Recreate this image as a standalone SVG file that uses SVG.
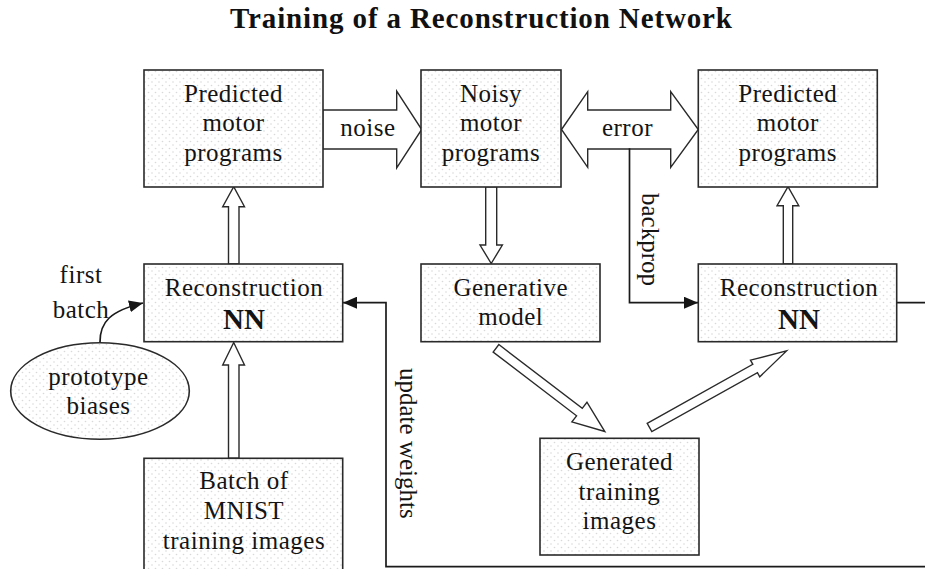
<svg xmlns="http://www.w3.org/2000/svg" width="925" height="569" viewBox="0 0 925 569">
  <defs>
    <!-- light stipple used inside boxes and the ellipse -->
    <pattern id="dots" width="7" height="7" patternUnits="userSpaceOnUse">
      <rect width="7" height="7" fill="#ffffff"/>
      <circle cx="1.5" cy="1.5" r="0.8" fill="#d9d9d9"/>
      <circle cx="5" cy="5" r="0.8" fill="#d9d9d9"/>
    </pattern>
    <marker id="head" markerUnits="userSpaceOnUse" markerWidth="14" markerHeight="12" refX="14" refY="6" orient="auto">
      <path d="M0,0 L14,6 L0,12 z" fill="#151515"/>
    </marker>
  </defs>
  <style>
    .box{fill:url(#dots);stroke:#2a2a2a;stroke-width:1.6}
    .t{font-family:"Liberation Serif","Times New Roman",serif;font-size:25px;fill:#141414;text-anchor:middle;letter-spacing:0.5px}
    .nn{font-weight:bold;font-size:29px;letter-spacing:0}
    .side{text-anchor:start;letter-spacing:0}
    .fat{fill:#ffffff;stroke:#2a2a2a;stroke-width:1.4;stroke-linejoin:miter}
    .wire{fill:none;stroke:#1a1a1a;stroke-width:1.7}
  </style>

  <rect width="925" height="569" fill="#ffffff"/>

  <text x="230" y="28" textLength="502" lengthAdjust="spacing" style="font-family:'Liberation Serif','Times New Roman',serif;font-size:29px;font-weight:bold;fill:#111">Training of a Reconstruction Network</text>

  <!-- connectors -->
  <g id="connectors">
    <!-- noise -->
    <polygon class="fat" points="322.7,110 396.7,110 396.7,91 421.7,129.5 396.7,168 396.7,149 322.7,149"/>
    <text class="t" x="368" y="136">noise</text>
    <!-- error (double headed) -->
    <polygon class="fat" points="561.5,129.5 587.7,91.7 587.7,110 670.7,110 670.7,91.7 698.3,129.5 670.7,167.3 670.7,149 587.7,149 587.7,167.3"/>
    <text class="t" x="627.5" y="136">error</text>
    <!-- reconstruction NN to predicted programs (left) -->
    <polygon class="fat" points="228.5,264 228.5,206.7 222.7,206.7 233.7,186.7 244.5,206.7 239,206.7 239,264"/>
    <!-- MNIST batch to reconstruction NN -->
    <polygon class="fat" points="228.5,458.3 228.5,365 222.7,365 233.7,342.5 244.5,365 239,365 239,458.3"/>
    <!-- noisy programs to generative model -->
    <polygon class="fat" points="485.7,186.7 485.7,245 480,245 491.2,263.5 502.4,245 496.7,245 496.7,186.7"/>
    <!-- reconstruction NN to predicted programs (right) -->
    <polygon class="fat" points="783.3,264 783.3,205.7 777,205.7 788,186.7 798.8,205.7 792.7,205.7 792.7,264"/>
    <!-- generative model to generated images -->
    <polygon class="fat" transform="translate(496,348.3) rotate(37.4)" points="0,-4.7 105,-4.7 105,-12.4 137,0 105,12.4 105,4.7 0,4.7"/>
    <!-- generated images to reconstruction NN -->
    <polygon class="fat" transform="translate(649.5,427.5) rotate(-29.2)" points="0,-4.75 121,-4.75 121,-9.5 157,0 121,9.5 121,4.75 0,4.75"/>

    <!-- backprop -->
    <path class="wire" d="M629.5,148.3 V302.7 H698" marker-end="url(#head)"/>
    <text class="t side" transform="translate(641.5,193) rotate(90)">backprop</text>

    <!-- update weights -->
    <path class="wire" d="M896.7,302.7 H930 V566.7 H386 V302.7 H343" marker-end="url(#head)"/>
    <text class="t side" transform="translate(400,368) rotate(90)">update weights</text>

    <!-- first batch -->
    <path class="wire" d="M100,342 C100,322 110,311 143,303" marker-end="url(#head)"/>
    <text class="t" x="81" y="283">first</text>
    <text class="t" x="81" y="318">batch</text>
  </g>

  <g id="predicted-left">
    <rect class="box" x="144" y="70" width="179" height="117"/>
    <text class="t" x="233.5" y="101.5">Predicted</text>
    <text class="t" x="233.5" y="131">motor</text>
    <text class="t" x="233.5" y="160.5">programs</text>
  </g>

  <g id="noisy">
    <rect class="box" x="421" y="70" width="140" height="117"/>
    <text class="t" x="491" y="101.5">Noisy</text>
    <text class="t" x="491" y="131">motor</text>
    <text class="t" x="491" y="160.5">programs</text>
  </g>

  <g id="predicted-right">
    <rect class="box" x="698.3" y="70" width="179" height="117"/>
    <text class="t" x="787.8" y="101.5">Predicted</text>
    <text class="t" x="787.8" y="131">motor</text>
    <text class="t" x="787.8" y="160.5">programs</text>
  </g>

  <g id="recon-left">
    <rect class="box" x="144" y="264" width="198.7" height="77.7"/>
    <text class="t" x="244" y="296">Reconstruction</text>
    <text class="t nn" x="244" y="328.5">NN</text>
  </g>

  <g id="generative">
    <rect class="box" x="421" y="264" width="179" height="77.7"/>
    <text class="t" x="510.8" y="295.7">Generative</text>
    <text class="t" x="510.8" y="325">model</text>
  </g>

  <g id="recon-right">
    <rect class="box" x="698.3" y="264" width="198.4" height="77.7"/>
    <text class="t" x="799" y="296">Reconstruction</text>
    <text class="t nn" x="799" y="328.5">NN</text>
  </g>

  <g id="prototype">
    <ellipse class="box" cx="100" cy="391" rx="89.3" ry="48.2"/>
    <text class="t" x="98.5" y="385">prototype</text>
    <text class="t" x="98.5" y="414.3">biases</text>
  </g>

  <g id="generated">
    <rect class="box" x="540" y="438.3" width="159" height="116.7"/>
    <text class="t" x="619.5" y="470">Generated</text>
    <text class="t" x="619.5" y="499.5">training</text>
    <text class="t" x="619.5" y="529">images</text>
  </g>

  <g id="mnist">
    <rect class="box" x="144" y="458.3" width="198.7" height="130"/>
    <text class="t" x="244" y="489">Batch of</text>
    <text class="t" x="244" y="518.5">MNIST</text>
    <text class="t" x="244" y="548.5">training images</text>
  </g>
</svg>
